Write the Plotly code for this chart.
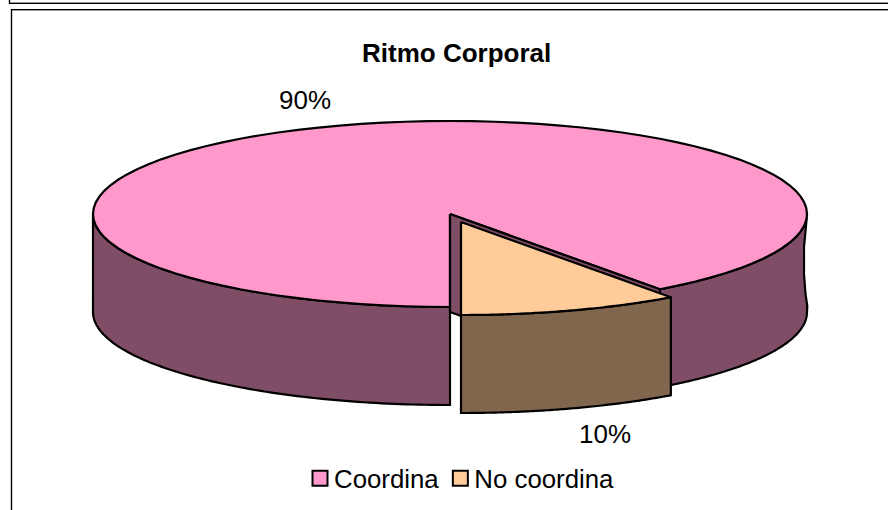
import math
import plotly.graph_objects as go

# Data
categories = ["Coordina", "No coordina"]
values = [90, 10]
colors_top = ["#FF99CC", "#FFCC99"]
colors_side = ["#804D66", "#80664D"]
title_text = "Ritmo Corporal"

# Pie geometry (pixels in an 888x510 canvas)
W, H = 888, 510
CX, CY = 450, 214
RX, RY = 357, 93
DEPTH = 98
EXPLODE = (11, 8)
LW = 2.2
FONT = "Liberation Sans, Arial, sans-serif"


def rim(theta, cx=CX, cy=CY, dy=0):
    t = math.radians(theta)
    return cx + RX * math.sin(t), cy + RY * math.cos(t) + dy


def arc(a, b, cx=CX, cy=CY, dy=0, n=90):
    return [rim(a + (b - a) * i / n, cx, cy, dy) for i in range(n + 1)]


def poly(fig, pts, color):
    pts = list(pts)
    pts.append(pts[0])
    fig.add_trace(go.Scatter(
        x=[p[0] for p in pts], y=[p[1] for p in pts], mode="lines",
        fill="toself", fillcolor=color,
        line=dict(color="black", width=LW, simplify=False),
        hoverinfo="skip", showlegend=False))


split = values[1] / sum(values) * 360
fig = go.Figure()

# Slightly wavy right edge of the wall, as in the source drawing
rx_top = rim(90)
wobble = [(rx_top[0] + dx, rx_top[1] + dy) for dy, dx in
          [(12, -1), (33, -3), (60, -3), (80, -1.5), (92, 0.3)]]

# Slice 1: walls, top, cut face
poly(fig, arc(split, 90) + wobble + arc(90, split, dy=DEPTH), colors_side[0])
poly(fig, arc(270, 360) + arc(360, 270, dy=DEPTH), colors_side[0])
poly(fig, [(CX, CY)] + arc(split, 360), colors_top[0])
r = rim(split)
poly(fig, [(CX, CY), r, (r[0], r[1] + DEPTH), (CX, CY + DEPTH)], colors_side[0])

# Slice 2: exploded
ox, oy = CX + EXPLODE[0], CY + EXPLODE[1]
poly(fig, arc(0, split, ox, oy) + arc(split, 0, ox, oy, DEPTH), colors_side[1])
poly(fig, [(ox, oy)] + arc(0, split, ox, oy), colors_top[1])

# Legend entries
for name, col in zip(categories, colors_top):
    fig.add_trace(go.Scatter(
        x=[None], y=[None], mode="markers", name=name,
        marker=dict(symbol="square", size=15, color=col,
                    line=dict(color="black", width=2))))

annotations = [
    dict(x=305, y=100, text=f"{values[0]}%", size=26),
    dict(x=605, y=434, text=f"{values[1]}%", size=26),
    dict(x=456, y=53, text=f"<b>{title_text}</b>", size=26),
]
for a in annotations:
    size = a.pop("size")
    a.update(xref="x", yref="y", showarrow=False, xanchor="center", yanchor="middle",
             font=dict(family=FONT, size=size, color="black"))


def hline(y, x0, color="black"):
    return dict(type="line", x0=x0, x1=W, y0=y, y1=y, line=dict(color=color, width=1))


def vline(x, y0, y1):
    return dict(type="line", x0=x, x1=x, y0=y0, y1=y1, line=dict(color="black", width=1.4))


shapes = [
    hline(2.5, 10, "#999999"), hline(3.5, 10), vline(9.5, 0, 4),
    hline(9.5, 11), hline(10.5, 12, "#999999"), vline(11.5, 9, H),
]

fig.update_layout(
    width=W, height=H, margin=dict(l=0, r=0, t=0, b=0, pad=0, autoexpand=False),
    paper_bgcolor="white", plot_bgcolor="white",
    xaxis=dict(range=[0, W], visible=False, fixedrange=True),
    yaxis=dict(range=[H, 0], visible=False, fixedrange=True),
    annotations=annotations, shapes=shapes,
    legend=dict(orientation="h", x=299 / W, y=1 - 455 / H, xanchor="left", yanchor="top",
                font=dict(family=FONT, size=25.8, color="black"),
                itemwidth=30, bgcolor="rgba(0,0,0,0)", indentation=-5,
                traceorder="normal"),
)

# Page margin off; tighten the legend's swatch-to-text spacing
post = """
document.body.style.margin='0';
document.documentElement.style.overflow='hidden';
var items=document.querySelectorAll('.legend .traces');
items.forEach(function(g,i){
  var s=g.querySelector('.layers');
  if(s){s.setAttribute('transform','translate(1,0)');}
  if(i===1){
    var m=/translate\\(([-\\d.]+)[ ,]+([-\\d.]+)\\)/.exec(g.getAttribute('transform'));
    if(m){g.setAttribute('transform','translate('+(parseFloat(m[1])-5)+','+m[2]+')');}
  }
});
"""
fig.write_html("out.html", post_script=post, config={"displayModeBar": False})
